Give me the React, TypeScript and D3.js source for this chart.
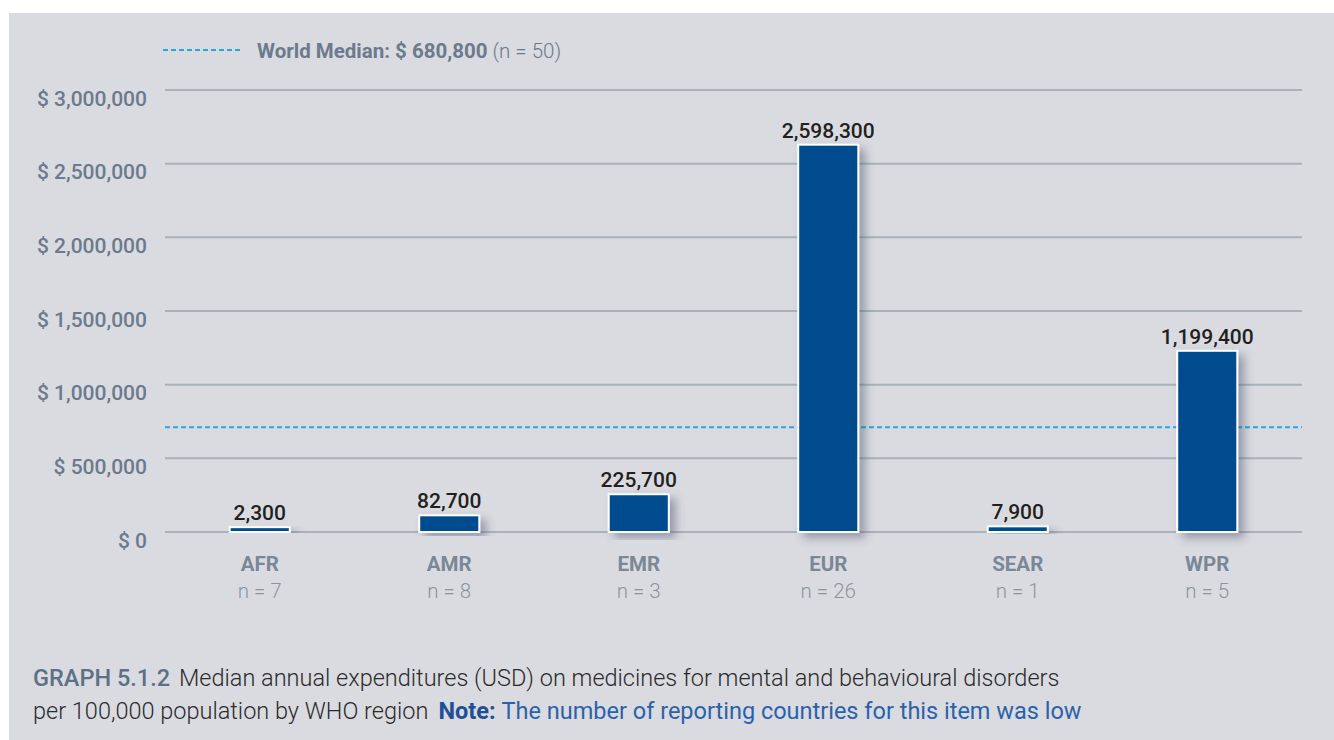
import React from "react";
import * as d3 from "d3";

const regions = ["AFR", "AMR", "EMR", "EUR", "SEAR", "WPR"];
const counts = [7, 8, 3, 26, 1, 5];
const medians = [2300, 82700, 225700, 2598300, 7900, 1199400];
const yTicks = [0, 500000, 1000000, 1500000, 2000000, 2500000, 3000000];
const worldMedian = 680800;
const worldN = 50;
const captionTitle = "GRAPH 5.1.2";
const captionLine1 = "Median annual expenditures (USD) on medicines for mental and behavioural disorders";
const captionLine2 = "per 100,000 population by WHO region";
const noteLabel = "Note:";
const noteText = "The number of reporting countries for this item was low";

const W = 1334;
const H = 740;
const FONT = "Roboto, 'Liberation Sans', Arial, sans-serif";
const BAR_LIFT = 4.5;

export default function App() {
  const x = d3.scaleBand<string>().domain(regions).range([165, 1302]).paddingInner(0.683).paddingOuter(0.3415);
  const y = d3.scaleLinear().domain([0, 3000000]).range([532, 90]);
  const fmt = d3.format(",");
  const money = (v: number) => "$ " + d3.format(",")(v);
  const [x0, x1] = x.range();

  return (
    <svg width={W} height={H} style={{ position: "absolute", left: 0, top: 0 }} fontFamily={FONT}>
      <defs>
        <filter id="shadow" x="-50%" y="-20%" width="200%" height="140%">
          <feDropShadow dx="6" dy="5" stdDeviation="5" floodColor="#404a66" floodOpacity="0.45" />
        </filter>
      </defs>
      <rect x={9} y={13} width={W - 9} height={H - 13} fill="#dadbe0" />

      {/* legend */}
      <line x1={163} x2={240} y1={50} y2={50} stroke="#22a9e2" strokeWidth={2} strokeDasharray="5 3" />
      <text x={257} y={58} fontSize={20.5} fill="#6b7a8c">
        <tspan fontWeight={700}>{"World Median: " + money(worldMedian)}</tspan>
        <tspan fontWeight={300}>{" (n = " + worldN + ")"}</tspan>
      </text>

      {/* gridlines + y labels */}
      {yTicks.map((t) => (
        <g key={t}>
          <line x1={x0} x2={x1} y1={y(t)} y2={y(t)} stroke="#a9b2ba" strokeWidth={2} />
          <text x={147} y={y(t) + 15.5} textAnchor="end" fontSize={21} fontWeight={500} fill="#6b7a8c">
            {money(t)}
          </text>
        </g>
      ))}

      {/* median line */}
      <line x1={x0} x2={x1} y1={y(worldMedian) - BAR_LIFT} y2={y(worldMedian) - BAR_LIFT} stroke="#22a9e2" strokeWidth={2} strokeDasharray="5 3" />

      {/* bars */}
      {regions.map((r, i) => {
        const bx = x(r)!;
        const top = y(medians[i]) - BAR_LIFT;
        return (
          <g key={r}>
            <rect x={bx} y={top} width={x.bandwidth()} height={y(0) - top} fill="#004b8e" stroke="#ffffff" strokeWidth={2} filter="url(#shadow)" />
            <text x={bx + x.bandwidth() / 2} y={top - 7} textAnchor="middle" fontSize={21} fontWeight={500} fill="#231f20">
              {fmt(medians[i])}
            </text>
            <text x={bx + x.bandwidth() / 2} y={571} textAnchor="middle" fontSize={20.5} fontWeight={700} fill="#7a8797">
              {r}
            </text>
            <text x={bx + x.bandwidth() / 2} y={598} textAnchor="middle" fontSize={20.5} fontWeight={300} fill="#8a95a2">
              {"n = " + counts[i]}
            </text>
          </g>
        );
      })}

      {/* caption */}
      <text x={33} y={686} fontSize={23.5} fontWeight={300} fill="#2b2b2b">
        <tspan fontWeight={500} fill="#5c7086">{captionTitle}</tspan>
        <tspan dx={9}>{captionLine1}</tspan>
      </text>
      <text x={33} y={719} fontSize={23.5} fontWeight={300} fill="#2b2b2b">
        <tspan>{captionLine2}</tspan>
        <tspan dx={10} fontWeight={700} fill="#1f4f95">{noteLabel}</tspan>
        <tspan dx={6} fontWeight={400} fill="#2a62aa">{noteText}</tspan>
      </text>
    </svg>
  );
}
